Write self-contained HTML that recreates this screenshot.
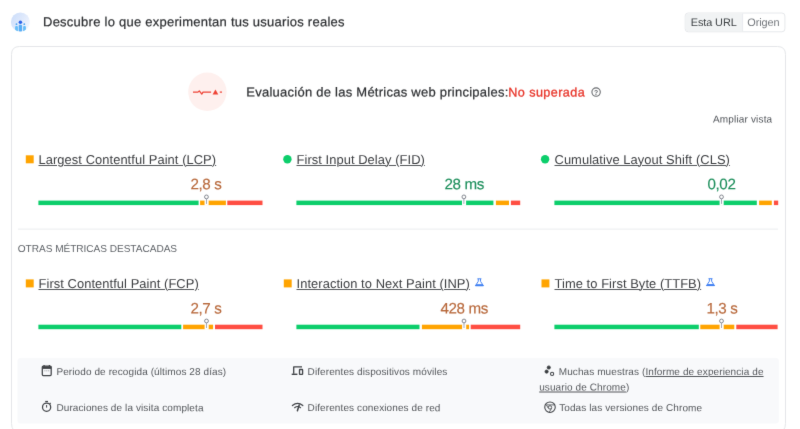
<!DOCTYPE html>
<html lang="es">
<head>
<meta charset="utf-8">
<title>Descubre lo que experimentan tus usuarios reales</title>
<style>
html,body{margin:0;padding:0;background:#fff;}
body{width:800px;height:429px;position:relative;overflow:hidden;font-family:"Liberation Sans",sans-serif;color:#202124;}
.abs{position:absolute;white-space:nowrap;line-height:1;}
#hdr{font-size:13px;color:#2e3033;letter-spacing:0.25px;-webkit-text-stroke:0.22px #2e3033;}
.ta{font-size:10.9px;letter-spacing:-0.1px;color:#3c4043;}
.tb{font-size:10.9px;letter-spacing:-0.1px;color:#72767b;}
#eval{font-size:13px;color:#2e3033;letter-spacing:0.25px;-webkit-text-stroke:0.22px #2e3033;}
#eval span{color:#e8352a;font-size:12.6px;letter-spacing:0.42px;-webkit-text-stroke:0.3px #e8352a;margin-left:-0.2px;}
#amp{font-size:10px;letter-spacing:0.16px;color:#4d5156;}
.m{font-size:12.9px;letter-spacing:0.07px;color:#3c3e41;text-decoration:underline;text-decoration-thickness:0.7px;text-underline-offset:0.7px;text-decoration-color:#55585c;}
.v{font-size:15.2px;letter-spacing:-0.4px;-webkit-text-stroke:0.15px;}
.or{color:#b8693c;}
.gr{color:#1d8f5c;}
#otras{font-size:10.1px;letter-spacing:-0.04px;color:#5f6368;}
.t{font-size:10px;color:#54575b;letter-spacing:0.1px;}
.t u{text-decoration:underline;text-decoration-thickness:0.7px;text-underline-offset:1px;}
#gfx{left:0;top:0;}
#page{position:absolute;left:0;top:0;width:800px;height:429px;background:#fff;filter:url(#soft);}
</style>
</head>
<body>
<svg width="0" height="0" style="position:absolute;left:0;top:0"><filter id="soft" x="0" y="0" width="100%" height="100%" color-interpolation-filters="sRGB"><feConvolveMatrix order="3" kernelMatrix="1 10 1 10 100 10 1 10 1" divisor="144" edgeMode="duplicate" preserveAlpha="true"/></filter></svg>
<div id="page">
<svg class="abs" id="gfx" width="800" height="429" viewBox="0 0 800 429">

<path d="M19.5 46.5 H777.5 Q785.5 46.5 785.5 54.5 V423.5 Q785.5 432.5 776.5 432.5 H20.5 Q11.5 432.5 11.5 423.5 V54.5 Q11.5 46.5 19.5 46.5 Z" fill="#fff" stroke="#e4e6e9" stroke-width="1"/>
<rect x="17.5" y="358" width="761.3" height="65.6" rx="3" fill="#f8f9fb"/>
<rect x="18" y="228.6" width="760" height="1" fill="#ebedef"/>
<rect x="685.2" y="13" width="99.7" height="18.8" rx="3" fill="#fff" stroke="#e6e8eb" stroke-width="1"/>
<path d="M688.2 13.5 H742.4 V31.3 H688.2 Q685.7 31.3 685.7 28.8 V16 Q685.7 13.5 688.2 13.5 Z" fill="#f1f3f4"/>
<rect x="742.2" y="13.5" width="0.9" height="17.8" fill="#e6e8eb"/>

<rect x="25.8" y="155.3" width="7.9" height="8" fill="#ffa400"/>
<circle cx="287.4" cy="159.3" r="4.2" fill="#0cce6b"/>
<circle cx="545.1" cy="159.3" r="4.2" fill="#0cce6b"/>
<rect x="25.8" y="279.4" width="7.9" height="8" fill="#ffa400"/>
<rect x="283.8" y="279.4" width="7.9" height="8" fill="#ffa400"/>
<rect x="541.5" y="279.4" width="7.9" height="8" fill="#ffa400"/>

<!-- header icon -->
<defs>
<linearGradient id="hg" x1="0" y1="0" x2="1" y2="0.6"><stop offset="0" stop-color="#c9dcfa"/><stop offset="0.6" stop-color="#dfe9fc"/><stop offset="1" stop-color="#f0f4fe"/></linearGradient>
<clipPath id="hc"><circle cx="20.4" cy="22" r="9.5"/></clipPath>
</defs>
<circle cx="20.4" cy="22" r="9.5" fill="url(#hg)"/>
<g clip-path="url(#hc)">
<rect x="15.1" y="26" width="2.8" height="7" rx="1" fill="#66bdf8"/>
<rect x="23.1" y="26" width="2.8" height="7" rx="1" fill="#66bdf8"/>
<rect x="18.7" y="24.8" width="3.4" height="8" rx="1.2" fill="#58aef6"/>
<circle cx="16.5" cy="24.2" r="0.9" fill="#4aa3f0"/>
<circle cx="24.3" cy="24.2" r="0.9" fill="#4aa3f0"/>
<circle cx="20.4" cy="22.2" r="1.75" fill="#2a62e8"/>
</g>
<!-- assessment icon -->
<circle cx="207.4" cy="91.8" r="19.2" fill="#fef0ee"/>
<path d="M193 92.1 H198 L199.3 90.9 L201.8 94.1 L203 92.1 H211.1" fill="none" stroke="#ee4336" stroke-width="1.25" stroke-linejoin="round"/>
<path d="M212.6 94.6 L215.45 89.5 L218.3 94.6 Z" fill="#ee4336"/>
<path d="M219.8 92.1 H222" fill="none" stroke="#ee4336" stroke-width="1.25"/>
<!-- help icon -->
<circle cx="596.1" cy="92.1" r="4.2" fill="none" stroke="#686b6f" stroke-width="1.1"/>
<text x="596.1" y="94.6" font-size="6.8" font-weight="bold" font-family="Liberation Sans, sans-serif" text-anchor="middle" fill="#5f6368">?</text>
<!-- bars -->
<rect x="38.4" y="200.6" width="160.2" height="4.5" fill="#0cce6b"/>
<rect x="200.1" y="200.6" width="25.8" height="4.5" fill="#ffa400"/>
<rect x="227.3" y="200.6" width="35.2" height="4.5" fill="#ff4e42"/>
<rect x="204.55" y="200.1" width="4.1" height="5.5" fill="#fff"/>
<rect x="206.05" y="198.6" width="0.8" height="5.3" fill="#8b93a5"/>
<circle cx="206.45" cy="196.9" r="1.9" fill="#fff" stroke="#7b7f88" stroke-width="0.95"/>
<rect x="296.4" y="200.6" width="197.0" height="4.5" fill="#0cce6b"/>
<rect x="495.9" y="200.6" width="13.1" height="4.5" fill="#ffa400"/>
<rect x="510.9" y="200.6" width="9.3" height="4.5" fill="#ff4e42"/>
<rect x="462.0" y="200.1" width="4.1" height="5.5" fill="#fff"/>
<rect x="463.5" y="198.6" width="0.8" height="5.3" fill="#8b93a5"/>
<circle cx="463.9" cy="196.9" r="1.9" fill="#fff" stroke="#7b7f88" stroke-width="0.95"/>
<rect x="554.4" y="200.6" width="202.4" height="4.5" fill="#0cce6b"/>
<rect x="759.1" y="200.6" width="12.7" height="4.5" fill="#ffa400"/>
<rect x="773.9" y="200.6" width="4.3" height="4.5" fill="#ff4e42"/>
<rect x="719.6" y="200.1" width="4.1" height="5.5" fill="#fff"/>
<rect x="721.1" y="198.6" width="0.8" height="5.3" fill="#8b93a5"/>
<circle cx="721.5" cy="196.9" r="1.9" fill="#fff" stroke="#7b7f88" stroke-width="0.95"/>
<rect x="38.4" y="324.7" width="142.9" height="4.5" fill="#0cce6b"/>
<rect x="183.1" y="324.7" width="30.0" height="4.5" fill="#ffa400"/>
<rect x="215.0" y="324.7" width="47.5" height="4.5" fill="#ff4e42"/>
<rect x="204.6" y="324.2" width="4.1" height="5.5" fill="#fff"/>
<rect x="206.1" y="322.7" width="0.8" height="5.3" fill="#8b93a5"/>
<circle cx="206.5" cy="321.0" r="1.9" fill="#fff" stroke="#7b7f88" stroke-width="0.95"/>
<rect x="296.4" y="324.7" width="123.1" height="4.5" fill="#0cce6b"/>
<rect x="421.9" y="324.7" width="47.2" height="4.5" fill="#ffa400"/>
<rect x="470.7" y="324.7" width="49.5" height="4.5" fill="#ff4e42"/>
<rect x="462.1" y="324.2" width="4.1" height="5.5" fill="#fff"/>
<rect x="463.6" y="322.7" width="0.8" height="5.3" fill="#8b93a5"/>
<circle cx="464.0" cy="321.0" r="1.9" fill="#fff" stroke="#7b7f88" stroke-width="0.95"/>
<rect x="554.4" y="324.7" width="144.4" height="4.5" fill="#0cce6b"/>
<rect x="700.3" y="324.7" width="34.0" height="4.5" fill="#ffa400"/>
<rect x="736.3" y="324.7" width="41.3" height="4.5" fill="#ff4e42"/>
<rect x="719.6" y="324.2" width="4.1" height="5.5" fill="#fff"/>
<rect x="721.1" y="322.7" width="0.8" height="5.3" fill="#8b93a5"/>
<circle cx="721.5" cy="321.0" r="1.9" fill="#fff" stroke="#7b7f88" stroke-width="0.95"/>

<!-- flasks -->
<g transform="translate(474.7,278.3)" fill="none" stroke="#3f7ff2" stroke-width="0.95" stroke-linejoin="round"><path d="M2.7 0.5 H6.7"/><path d="M3.6 0.6 V3 L0.8 7.3 H8.6 L5.8 3 V0.6"/><path d="M1.6 6.4 H7.8 L8.6 7.4 H0.8 Z" fill="#3f7ff2"/></g>
<g transform="translate(705.8,278.2)" fill="none" stroke="#3f7ff2" stroke-width="0.95" stroke-linejoin="round"><path d="M2.7 0.5 H6.7"/><path d="M3.6 0.6 V3 L0.8 7.3 H8.6 L5.8 3 V0.6"/><path d="M1.6 6.4 H7.8 L8.6 7.4 H0.8 Z" fill="#3f7ff2"/></g>

<!-- footer icons -->
<g fill="none" stroke="#3f4246" stroke-width="1.25" stroke-linejoin="round">
<!-- calendar -->
<rect x="42.3" y="366.1" width="8.9" height="9.5" rx="1"/>
<path d="M42.3 367.6 H51.2" stroke-width="2.6"/>
<path d="M44.1 364.9 V366.6 M49.4 364.9 V366.6" stroke-width="1.2"/>
<path d="M44.4 370.8 H45.4 M46.3 370.8 H47.3 M48.2 370.8 H49.2" stroke="#8a8d91" stroke-width="0.9"/>
<!-- stopwatch -->
<circle cx="46.6" cy="407.2" r="4.1"/>
<path d="M45.2 401.5 H48" stroke-width="1.2"/>
<path d="M46.6 405 V407.6" stroke-width="1"/>
<path d="M49.6 404 L50.6 403" stroke-width="1.2"/>
<!-- devices -->
<path d="M293.7 373.8 V366.9 H302" stroke-width="1.3"/>
<path d="M291.7 374.3 H297.4" stroke-width="1.4"/>
<rect x="299.5" y="369.5" width="3.1" height="4.8" rx="0.4" stroke-width="1.3"/>
<!-- wifi -->
<path d="M292.4 405.5 Q297.6 401.3 302.8 405.5" stroke-width="1.2" stroke-linecap="round"/>
<path d="M294.6 407.7 Q297.6 405.4 300.6 407.7" stroke-width="1.1" stroke-linecap="round"/>
<path d="M299.2 405 L297.4 410.8" stroke-width="1.5" stroke-linecap="round"/>
<!-- samples -->
<circle cx="548.8" cy="367.5" r="1.6" fill="#3a3d40" stroke="#3a3d40" stroke-width="0.8"/>
<circle cx="546.6" cy="371.6" r="1.6" fill="#3a3d40" stroke="#3a3d40" stroke-width="0.8"/>
<circle cx="552.1" cy="373.9" r="1.6" stroke-width="1.05"/>
<!-- chrome -->
<circle cx="550" cy="407.2" r="5.25" stroke-width="1.05"/>
<circle cx="550" cy="407.4" r="1.7" stroke-width="0.85"/>
<path d="M547 404.9 H554.8 M548.4 408.2 L545.7 404 M551.6 408.4 L549.2 412.2" stroke-width="0.8"/>
</g>

</svg>
<div class="abs " id="hdr" style="left:43px;top:15px;transform:matrix(1,0.0005,0,1,0,0.25);">Descubre lo que experimentan tus usuarios reales</div>
<div class="abs " id="eval" style="left:246px;top:85px;transform:matrix(1,0.0005,0,1,0.3,0.5);">Evaluación de las Métricas web principales:<span>No superada</span></div>
<div class="abs " id="amp" style="left:713px;top:114px;transform:matrix(1,0.0005,0,1,0,0.4);">Ampliar vista</div>
<div class="abs ta" style="left:690px;top:17px;transform:matrix(1,0.0005,0,1,0.8,0.1);">Esta URL</div>
<div class="abs tb" style="left:747px;top:17px;transform:matrix(1,0.0005,0,1,0.3,0.1);">Origen</div>
<div class="abs m" style="left:38px;top:154px;transform:matrix(1,0.0005,0,1,0.5,0.0);">Largest Contentful Paint (LCP)</div>
<div class="abs m" style="left:296px;top:154px;transform:matrix(1,0.0005,0,1,0.5,0.0);">First Input Delay (FID)</div>
<div class="abs m" style="left:554px;top:154px;transform:matrix(1,0.0005,0,1,0.5,0.0);">Cumulative Layout Shift (CLS)</div>
<div class="abs m" style="left:38px;top:278px;transform:matrix(1,0.0005,0,1,0.5,0.0);">First Contentful Paint (FCP)</div>
<div class="abs m" style="left:296px;top:278px;transform:matrix(1,0.0005,0,1,0.5,0.0);">Interaction to Next Paint (INP)</div>
<div class="abs m" style="left:554px;top:278px;transform:matrix(1,0.0005,0,1,0.5,0.0);">Time to First Byte (TTFB)</div>
<div class="abs v or" style="left:190px;top:176px;transform:matrix(1,0.0005,0,1,0.5,0.3);">2,8 s</div>
<div class="abs v gr" style="left:444px;top:176px;transform:matrix(1,0.0005,0,1,0.5,0.3);">28 ms</div>
<div class="abs v gr" style="left:707px;top:176px;transform:matrix(1,0.0005,0,1,0.5,0.3);">0,02</div>
<div class="abs v or" style="left:190px;top:300px;transform:matrix(1,0.0005,0,1,0.5,0.4);">2,7 s</div>
<div class="abs v or" style="left:440px;top:300px;transform:matrix(1,0.0005,0,1,0.5,0.4);">428 ms</div>
<div class="abs v or" style="left:706px;top:300px;transform:matrix(1,0.0005,0,1,0.5,0.4);">1,3 s</div>
<div class="abs " id="otras" style="left:17px;top:244px;transform:matrix(1,0.0005,0,1,0.8,0);">OTRAS MÉTRICAS DESTACADAS</div>
<div class="abs t" style="left:56px;top:367px;transform:matrix(1,0.0005,0,1,0.4,0.0);">Periodo de recogida (últimos 28 días)</div>
<div class="abs t" style="left:56px;top:403px;transform:matrix(1,0.0005,0,1,0.4,0.1);">Duraciones de la visita completa</div>
<div class="abs t" style="left:307px;top:367px;transform:matrix(1,0.0005,0,1,0.6,0.0);">Diferentes dispositivos móviles</div>
<div class="abs t" style="left:307px;top:403px;transform:matrix(1,0.0005,0,1,0.6,0.1);">Diferentes conexiones de red</div>
<div class="abs t" style="left:558px;top:367px;transform:matrix(1,0.0005,0,1,0.7,0.0);">Muchas muestras (<u>Informe de experiencia de</u></div>
<div class="abs t" style="left:539px;top:382px;transform:matrix(1,0.0005,0,1,0.2,0.6);"><u>usuario de Chrome</u>)</div>
<div class="abs t" style="left:559px;top:403px;transform:matrix(1,0.0005,0,1,0.2,0.1);">Todas las versiones de Chrome</div>
</div>
</body>
</html>
